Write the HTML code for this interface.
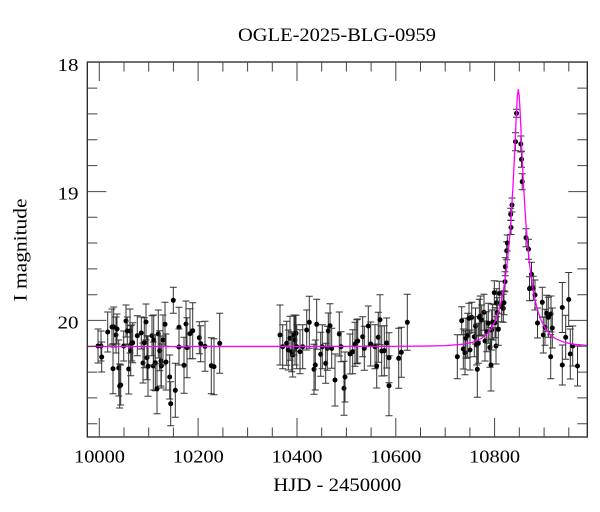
<!DOCTYPE html>
<html><head><meta charset="utf-8"><style>
html,body{margin:0;padding:0;background:#fff;}
svg{display:block;}
text{font-family:"Liberation Serif",serif;fill:#000;}
</style></head><body>
<svg width="600" height="512" viewBox="0 0 600 512" xmlns="http://www.w3.org/2000/svg">
<defs>
<g id="e4"><path d="M0,-4V4M-3.5,-4h7M-3.5,4h7" stroke="#333" stroke-width="1" fill="none"/><circle r="2.5" fill="#000"/></g>
<g id="e6"><path d="M0,-6V6M-3.5,-6h7M-3.5,6h7" stroke="#333" stroke-width="1" fill="none"/><circle r="2.5" fill="#000"/></g>
<g id="e7"><path d="M0,-7V7M-3.5,-7h7M-3.5,7h7" stroke="#333" stroke-width="1" fill="none"/><circle r="2.5" fill="#000"/></g>
<g id="e8"><path d="M0,-8V8M-3.5,-8h7M-3.5,8h7" stroke="#333" stroke-width="1" fill="none"/><circle r="2.5" fill="#000"/></g>
<g id="e9"><path d="M0,-9V9M-3.5,-9h7M-3.5,9h7" stroke="#333" stroke-width="1" fill="none"/><circle r="2.5" fill="#000"/></g>
<g id="e10"><path d="M0,-10V10M-3.5,-10h7M-3.5,10h7" stroke="#333" stroke-width="1" fill="none"/><circle r="2.5" fill="#000"/></g>
<g id="e12"><path d="M0,-12V12M-3.5,-12h7M-3.5,12h7" stroke="#333" stroke-width="1" fill="none"/><circle r="2.5" fill="#000"/></g>
<g id="e13"><path d="M0,-13V13M-3.5,-13h7M-3.5,13h7" stroke="#333" stroke-width="1" fill="none"/><circle r="2.5" fill="#000"/></g>
<g id="e14"><path d="M0,-14V14M-3.5,-14h7M-3.5,14h7" stroke="#333" stroke-width="1" fill="none"/><circle r="2.5" fill="#000"/></g>
<g id="e15"><path d="M0,-15V15M-3.5,-15h7M-3.5,15h7" stroke="#333" stroke-width="1" fill="none"/><circle r="2.5" fill="#000"/></g>
<g id="e16"><path d="M0,-16V16M-3.5,-16h7M-3.5,16h7" stroke="#333" stroke-width="1" fill="none"/><circle r="2.5" fill="#000"/></g>
<g id="e17"><path d="M0,-17V17M-3.5,-17h7M-3.5,17h7" stroke="#333" stroke-width="1" fill="none"/><circle r="2.5" fill="#000"/></g>
<g id="e18"><path d="M0,-18V18M-3.5,-18h7M-3.5,18h7" stroke="#333" stroke-width="1" fill="none"/><circle r="2.5" fill="#000"/></g>
<g id="e20"><path d="M0,-20V20M-3.5,-20h7M-3.5,20h7" stroke="#333" stroke-width="1" fill="none"/><circle r="2.5" fill="#000"/></g>
<g id="e22"><path d="M0,-22V22M-3.5,-22h7M-3.5,22h7" stroke="#333" stroke-width="1" fill="none"/><circle r="2.5" fill="#000"/></g>
<g id="e23"><path d="M0,-23V23M-3.5,-23h7M-3.5,23h7" stroke="#333" stroke-width="1" fill="none"/><circle r="2.5" fill="#000"/></g>
<g id="e24"><path d="M0,-24V24M-3.5,-24h7M-3.5,24h7" stroke="#333" stroke-width="1" fill="none"/><circle r="2.5" fill="#000"/></g>
<g id="e25"><path d="M0,-25V25M-3.5,-25h7M-3.5,25h7" stroke="#333" stroke-width="1" fill="none"/><circle r="2.5" fill="#000"/></g>
<g id="e26"><path d="M0,-26V26M-3.5,-26h7M-3.5,26h7" stroke="#333" stroke-width="1" fill="none"/><circle r="2.5" fill="#000"/></g>
<g id="e27"><path d="M0,-27V27M-3.5,-27h7M-3.5,27h7" stroke="#333" stroke-width="1" fill="none"/><circle r="2.5" fill="#000"/></g>
<g id="e28"><path d="M0,-28V28M-3.5,-28h7M-3.5,28h7" stroke="#333" stroke-width="1" fill="none"/><circle r="2.5" fill="#000"/></g>
<g id="e30"><path d="M0,-30V30M-3.5,-30h7M-3.5,30h7" stroke="#333" stroke-width="1" fill="none"/><circle r="2.5" fill="#000"/></g>
<clipPath id="pc"><rect x="87.3" y="62" width="500" height="375"/></clipPath>
</defs>

<text x="337" y="41" font-size="19" text-anchor="middle" textLength="198" lengthAdjust="spacingAndGlyphs">OGLE-2025-BLG-0959</text>

<g clip-path="url(#pc)">
<use href="#e17" x="98" y="346"/>
<use href="#e15" x="101" y="346"/>
<use href="#e15" x="101.7" y="357"/>
<use href="#e20" x="107.7" y="332"/>
<use href="#e18" x="112" y="327"/>
<use href="#e20" x="113.7" y="327"/>
<use href="#e25" x="113" y="368.7"/>
<use href="#e18" x="116" y="335"/>
<use href="#e15" x="117" y="329"/>
<use href="#e28" x="118.7" y="368"/>
<use href="#e22" x="119.7" y="386"/>
<use href="#e20" x="120.7" y="385"/>
<use href="#e15" x="123.7" y="346"/>
<use href="#e16" x="126" y="321"/>
<use href="#e14" x="127.3" y="331"/>
<use href="#e25" x="128.7" y="369"/>
<use href="#e22" x="130" y="331"/>
<use href="#e25" x="130.7" y="350.7"/>
<use href="#e18" x="131.7" y="343"/>
<use href="#e20" x="132.7" y="342.7"/>
<use href="#e20" x="137.3" y="335.7"/>
<use href="#e16" x="141.3" y="333"/>
<use href="#e20" x="143" y="363"/>
<use href="#e25" x="144.3" y="342.7"/>
<use href="#e18" x="146" y="322"/>
<use href="#e22" x="147" y="357.7"/>
<use href="#e30" x="148" y="366.3"/>
<use href="#e20" x="152" y="335.7"/>
<use href="#e24" x="153.3" y="366"/>
<use href="#e25" x="153.7" y="340"/>
<use href="#e28" x="155.3" y="362.7"/>
<use href="#e25" x="157" y="388.7"/>
<use href="#e24" x="158.3" y="334"/>
<use href="#e20" x="159.7" y="350.7"/>
<use href="#e25" x="161" y="361"/>
<use href="#e22" x="161.3" y="366"/>
<use href="#e25" x="163" y="340"/>
<use href="#e22" x="165" y="324.3"/>
<use href="#e28" x="166" y="362"/>
<use href="#e22" x="169.7" y="377"/>
<use href="#e22" x="170.7" y="403.7"/>
<use href="#e13" x="173.3" y="300.3"/>
<use href="#e27" x="175.3" y="390.3"/>
<use href="#e20" x="179" y="327.3"/>
<use href="#e18" x="179" y="347"/>
<use href="#e28" x="184" y="365.3"/>
<use href="#e23" x="186" y="324"/>
<use href="#e30" x="187" y="347.7"/>
<use href="#e25" x="190" y="333.7"/>
<use href="#e28" x="192.7" y="330.7"/>
<use href="#e16" x="199.3" y="337.7"/>
<use href="#e18" x="200.7" y="343.7"/>
<use href="#e25" x="205" y="346.3"/>
<use href="#e28" x="211.3" y="365.7"/>
<use href="#e28" x="214" y="366.7"/>
<use href="#e30" x="219.7" y="343.3"/>
<use href="#e30" x="280" y="335"/>
<use href="#e22" x="282.7" y="346.7"/>
<use href="#e22" x="286.7" y="343.3"/>
<use href="#e20" x="288.3" y="350"/>
<use href="#e22" x="290" y="338.3"/>
<use href="#e20" x="291.7" y="351.7"/>
<use href="#e22" x="292.7" y="355"/>
<use href="#e20" x="294" y="335"/>
<use href="#e25" x="295" y="340"/>
<use href="#e18" x="296" y="333.3"/>
<use href="#e22" x="296.7" y="346.7"/>
<use href="#e22" x="300" y="351.7"/>
<use href="#e22" x="302.7" y="346.7"/>
<use href="#e20" x="306.7" y="330"/>
<use href="#e26" x="309.3" y="322.3"/>
<use href="#e25" x="314" y="369.3"/>
<use href="#e25" x="315.3" y="365"/>
<use href="#e25" x="316.7" y="324.3"/>
<use href="#e22" x="320.7" y="354.3"/>
<use href="#e22" x="322.3" y="346.7"/>
<use href="#e20" x="325.7" y="363.3"/>
<use href="#e22" x="327.3" y="348.3"/>
<use href="#e18" x="328.3" y="331"/>
<use href="#e22" x="330" y="325.7"/>
<use href="#e20" x="331.7" y="348.3"/>
<use href="#e26" x="335" y="380"/>
<use href="#e22" x="339.3" y="334"/>
<use href="#e15" x="341" y="346.7"/>
<use href="#e27" x="344" y="388.3"/>
<use href="#e25" x="345" y="377"/>
<use href="#e20" x="350" y="354"/>
<use href="#e22" x="352.7" y="351.7"/>
<use href="#e22" x="355" y="344.3"/>
<use href="#e22" x="356.7" y="341.7"/>
<use href="#e22" x="357.7" y="341"/>
<use href="#e20" x="362.7" y="336.7"/>
<use href="#e22" x="364.3" y="348.3"/>
<use href="#e20" x="368.3" y="326"/>
<use href="#e22" x="370.7" y="344"/>
<use href="#e22" x="375" y="346.7"/>
<use href="#e22" x="376.7" y="366"/>
<use href="#e25" x="378.3" y="337.3"/>
<use href="#e25" x="380" y="319.7"/>
<use href="#e25" x="381.7" y="351"/>
<use href="#e25" x="384.3" y="350.7"/>
<use href="#e25" x="386.7" y="343"/>
<use href="#e30" x="389" y="385.7"/>
<use href="#e25" x="389" y="357.7"/>
<use href="#e30" x="398.7" y="358.3"/>
<use href="#e25" x="401.3" y="352.3"/>
<use href="#e28" x="407.3" y="322.3"/>
<use href="#e22" x="457.3" y="356.7"/>
<use href="#e14" x="461.7" y="320.7"/>
<use href="#e20" x="463.3" y="349"/>
<use href="#e22" x="465" y="352.7"/>
<use href="#e20" x="466" y="338.3"/>
<use href="#e22" x="467.7" y="335.3"/>
<use href="#e15" x="469" y="318.3"/>
<use href="#e20" x="470" y="350"/>
<use href="#e15" x="471.7" y="317.3"/>
<use href="#e20" x="474.3" y="336.7"/>
<use href="#e18" x="475.5" y="326"/>
<use href="#e20" x="476.7" y="345"/>
<use href="#e28" x="477.3" y="369.3"/>
<use href="#e20" x="478.3" y="343.3"/>
<use href="#e18" x="479.3" y="317.3"/>
<use href="#e20" x="480.3" y="316"/>
<use href="#e15" x="481.7" y="320"/>
<use href="#e18" x="484" y="312.3"/>
<use href="#e20" x="485" y="341"/>
<use href="#e20" x="486.7" y="331.7"/>
<use href="#e20" x="488.3" y="323.3"/>
<use href="#e20" x="490" y="347.3"/>
<use href="#e26" x="491" y="365"/>
<use href="#e20" x="491.7" y="330"/>
<use href="#e18" x="492.7" y="322"/>
<use href="#e12" x="494.3" y="292.7"/>
<use href="#e15" x="495" y="322.7"/>
<use href="#e18" x="496" y="346"/>
<use href="#e14" x="496.7" y="302.7"/>
<use href="#e15" x="497.3" y="312.7"/>
<use href="#e16" x="498.3" y="329.3"/>
<use href="#e12" x="499.3" y="293.3"/>
<use href="#e15" x="501.7" y="306.7"/>
<use href="#e14" x="503.3" y="308.3"/>
<use href="#e12" x="504" y="302.7"/>
<use href="#e10" x="505" y="281.7"/>
<use href="#e9" x="505.3" y="266.7"/>
<use href="#e9" x="506.7" y="250.7"/>
<use href="#e8" x="507.3" y="243"/>
<use href="#e6" x="510.7" y="214.3"/>
<use href="#e7" x="511" y="227.5"/>
<use href="#e7" x="512" y="205"/>
<use href="#e9" x="515.5" y="141.7"/>
<use href="#e4" x="516.5" y="113.3"/>
<use href="#e8" x="520.8" y="144"/>
<use href="#e8" x="521.5" y="159.3"/>
<use href="#e8" x="522.2" y="181.7"/>
<use href="#e9" x="526" y="237.7"/>
<use href="#e10" x="528.5" y="249.2"/>
<use href="#e12" x="529.5" y="288.7"/>
<use href="#e12" x="531.5" y="274.3"/>
<use href="#e12" x="533.3" y="288.3"/>
<use href="#e15" x="535" y="295"/>
<use href="#e15" x="537.5" y="323"/>
<use href="#e15" x="542.3" y="302.3"/>
<use href="#e18" x="543.3" y="335"/>
<use href="#e18" x="545" y="327.3"/>
<use href="#e18" x="546.7" y="313.3"/>
<use href="#e20" x="548.3" y="317.3"/>
<use href="#e22" x="550.7" y="356.7"/>
<use href="#e18" x="551" y="314"/>
<use href="#e20" x="552.3" y="328"/>
<use href="#e25" x="562.3" y="307.5"/>
<use href="#e20" x="562.3" y="365"/>
<use href="#e22" x="565.7" y="337.3"/>
<use href="#e27" x="568.7" y="299.5"/>
<use href="#e25" x="570.3" y="354"/>
<use href="#e20" x="572.7" y="346"/>
<use href="#e20" x="577.5" y="366"/>

<polyline fill="none" stroke="#ff00ff" stroke-width="1.3" stroke-linejoin="round"
points="87.3,346.5 390.4,346.4 426.9,346.05 445.2,345.6 463.5,344.2 472.6,342.3 481.8,338.3 486.3,334.7 490.9,329.2 495.5,320.4 498.2,312.7 500,306.2 501.9,298.2 503.7,288.4 505.5,276.4 507.3,261.4 509.2,242.7 511,219.2 512.8,189.5 514.65,152.5 515.56,131.9 516.47,111.7 517.39,95.8 518.3,89.6 519.21,95.8 520.13,111.7 521.04,131.9 521.95,152.5 523.78,189.5 525.6,219.2 527.44,242.7 529.26,261.4 531.09,276.4 532.92,288.4 534.7,298.2 536.57,306.2 538.4,312.7 541.14,320.4 545.7,329.2 550.3,334.7 554.84,338.3 564,342.3 573.1,344.2 587.3,345.4"/>
</g>

<rect x="87.3" y="62" width="500" height="375" fill="none" stroke="#222" stroke-width="1.3"/>

<path fill="none" stroke="#444" stroke-width="1"
d="M99.3,437v-19M124,437v-9.5M148.7,437v-9.5M173.4,437v-9.5M198.1,437v-19M222.9,437v-9.5M247.6,437v-9.5M272.3,437v-9.5M297,437v-19M321.7,437v-9.5M346.4,437v-9.5M371.1,437v-9.5M395.8,437v-19M420.5,437v-9.5M445.2,437v-9.5M469.9,437v-9.5M494.6,437v-19M519.3,437v-9.5M544.1,437v-9.5M568.8,437v-9.5
M99.3,62v19M124,62v9.5M148.7,62v9.5M173.4,62v9.5M198.1,62v19M222.9,62v9.5M247.6,62v9.5M272.3,62v9.5M297,62v19M321.7,62v9.5M346.4,62v9.5M371.1,62v9.5M395.8,62v19M420.5,62v9.5M445.2,62v9.5M469.9,62v9.5M494.6,62v19M519.3,62v9.5M544.1,62v9.5M568.8,62v9.5
M87.3,62.3h19M87.3,88.1h10M87.3,113.9h10M87.3,139.8h10M87.3,165.6h10M87.3,191.6h19M87.3,217.2h10M87.3,243h10M87.3,268.9h10M87.3,294.7h10M87.3,320.4h19M87.3,346.3h10M87.3,372.1h10M87.3,397.9h10M87.3,423.7h10
M587.3,62.3h-19M587.3,88.1h-10M587.3,113.9h-10M587.3,139.8h-10M587.3,165.6h-10M587.3,191.6h-19M587.3,217.2h-10M587.3,243h-10M587.3,268.9h-10M587.3,294.7h-10M587.3,320.4h-19M587.3,346.3h-10M587.3,372.1h-10M587.3,397.9h-10M587.3,423.7h-10"/>

<text x="78.5" y="71" font-size="18" text-anchor="end" textLength="21" lengthAdjust="spacingAndGlyphs">18</text>
<text x="78.5" y="199.5" font-size="18" text-anchor="end" textLength="21" lengthAdjust="spacingAndGlyphs">19</text>
<text x="78.5" y="328.3" font-size="18" text-anchor="end" textLength="21" lengthAdjust="spacingAndGlyphs">20</text>

<text x="99.5" y="462.7" font-size="18" text-anchor="middle" textLength="51" lengthAdjust="spacingAndGlyphs">10000</text>
<text x="198.3" y="462.7" font-size="18" text-anchor="middle" textLength="51" lengthAdjust="spacingAndGlyphs">10200</text>
<text x="297" y="462.7" font-size="18" text-anchor="middle" textLength="51" lengthAdjust="spacingAndGlyphs">10400</text>
<text x="395.8" y="462.7" font-size="18" text-anchor="middle" textLength="51" lengthAdjust="spacingAndGlyphs">10600</text>
<text x="494.6" y="462.7" font-size="18" text-anchor="middle" textLength="51" lengthAdjust="spacingAndGlyphs">10800</text>

<text x="337.3" y="491" font-size="19" text-anchor="middle" textLength="128" lengthAdjust="spacingAndGlyphs">HJD - 2450000</text>
<text transform="translate(26.7,250) rotate(-90)" x="0" y="0" font-size="19" text-anchor="middle" textLength="103" lengthAdjust="spacingAndGlyphs">I magnitude</text>
</svg>
</body></html>
